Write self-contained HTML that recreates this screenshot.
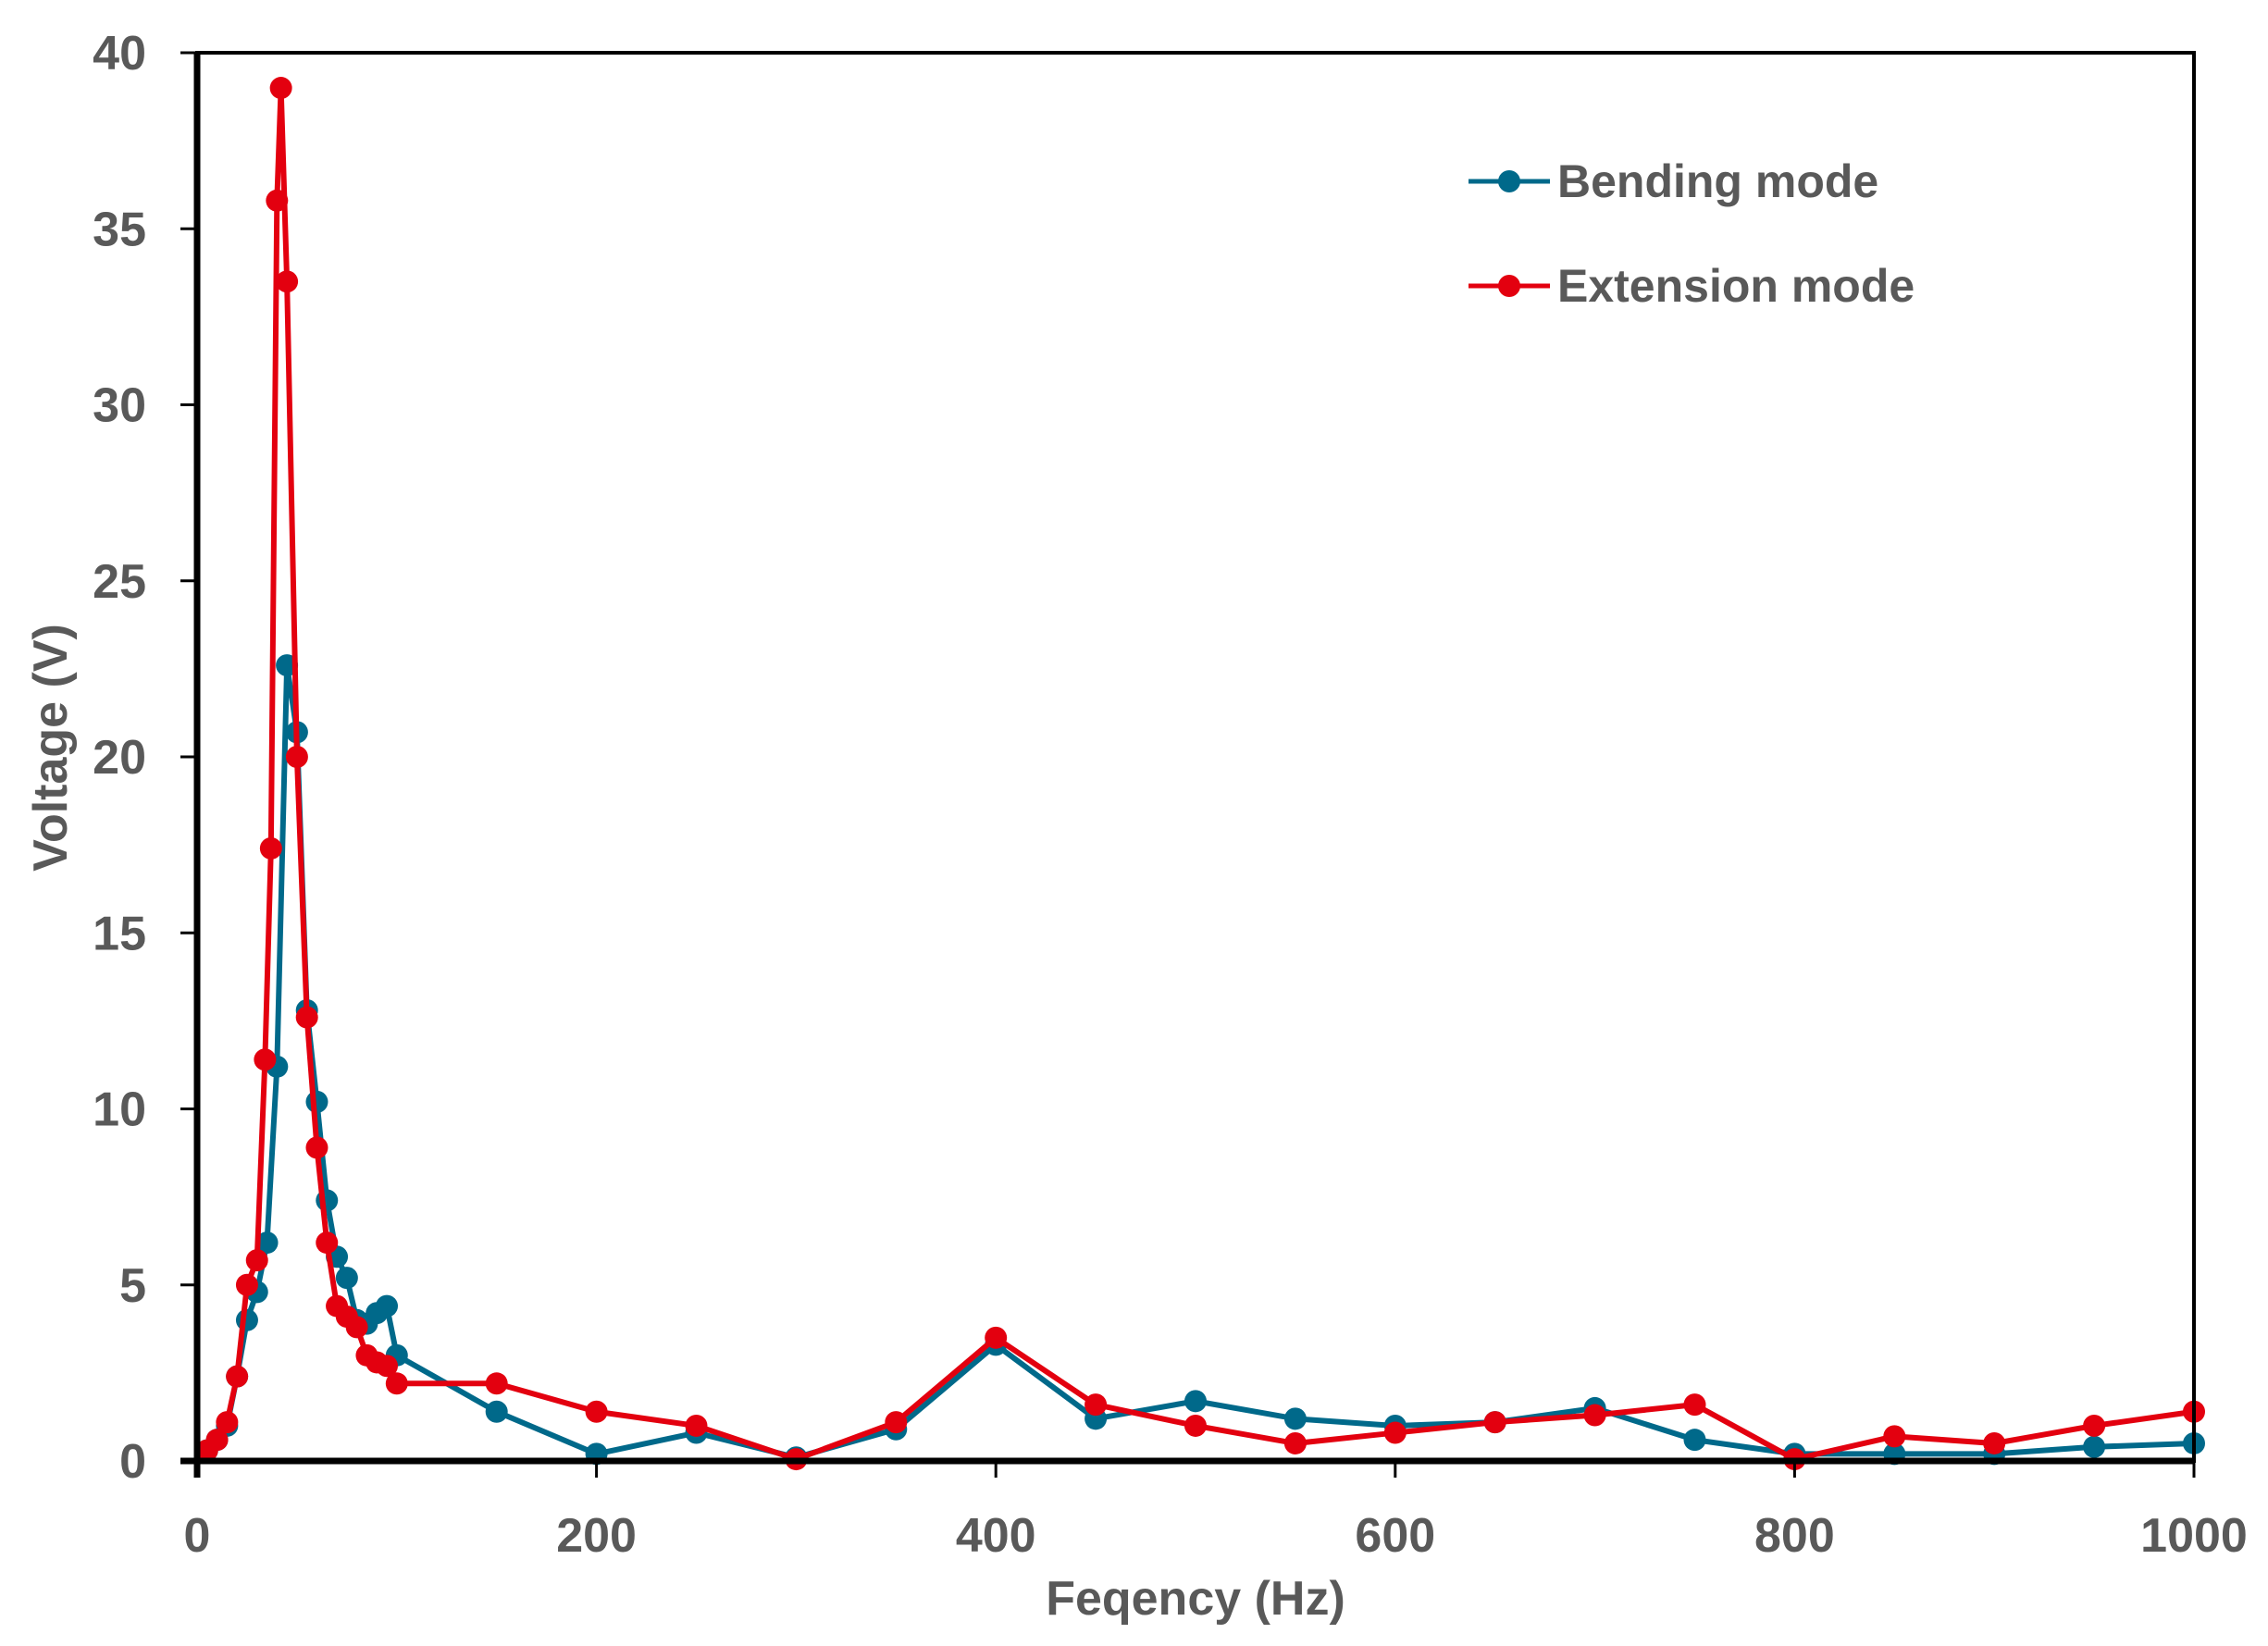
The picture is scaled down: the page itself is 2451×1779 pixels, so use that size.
<!DOCTYPE html>
<html><head><meta charset="utf-8"><style>
body{margin:0;background:#fff;}
svg{display:block;font-family:"Liberation Sans",sans-serif;}
</style></head><body>
<svg id="chart" width="2451" height="1779" viewBox="0 0 2451 1779" xmlns="http://www.w3.org/2000/svg">
<g id="series"></g>
<g id="axes"></g>
<g id="legend"></g>
</svg>
<script>
const bendX=[5,10,15,20,25,30,35,40,45,50,55,60,65,70,75,80,85,90,95,100,150,200,250,300,350,400,450,500,550,600,650,700,750,800,850,900,950,1000];
const bendY=[0.3,0.6,1.0,2.4,4.0,4.8,6.2,11.2,22.6,20.7,12.8,10.2,7.4,5.8,5.2,4.0,3.9,4.2,4.4,3.0,1.4,0.2,0.8,0.1,0.9,3.3,1.2,1.7,1.2,1.0,1.1,1.5,0.6,0.2,0.2,0.2,0.4,0.5];
const extX=[5,10,15,20,25,30,34,37,40,42,45,50,55,60,65,70,75,80,85,90,95,100,150,200,250,300,350,400,450,500,550,600,650,700,750,800,850,900,950,1000];
const extY=[0.3,0.6,1.1,2.4,5.0,5.7,11.4,17.4,35.8,39.0,33.5,20.0,12.6,8.9,6.2,4.4,4.1,3.8,3.0,2.8,2.7,2.2,2.2,1.4,1.0,0.05,1.1,3.5,1.6,1.0,0.5,0.8,1.1,1.3,1.6,0.05,0.7,0.5,1.0,1.4];
const xTicks=[0,200,400,600,800,1000];
const yTicks=[0,5,10,15,20,25,30,35,40];
const seriesNames=["Bending mode","Extension mode"];
const X0=213,X1=2371,Y0=1579,Y1=57;
const sx=v=>X0+(X1-X0)*v/1000;
const sy=v=>Y0-(Y0-Y1)*v/40;
const NS="http://www.w3.org/2000/svg";
function mk(tag,attrs,parent){const e=document.createElementNS(NS,tag);for(const k in attrs)e.setAttribute(k,attrs[k]);parent.appendChild(e);return e;}
const axes=document.getElementById('axes'),ser=document.getElementById('series'),leg=document.getElementById('legend');
let fr=mk('rect',{x:X0,y:Y1,width:X1-X0,height:Y0-Y1,fill:'none',stroke:'#000','stroke-width':4},axes);


let ya=mk('line',{x1:X0,y1:Y1,x2:X0,y2:Y0+18,stroke:'#000','stroke-width':7},axes);


let xa=mk('line',{x1:X0-18,y1:Y0,x2:X1,y2:Y0,stroke:'#000','stroke-width':7},axes);


yTicks.forEach(v=>{
  const tk=mk('line',{x1:X0-18,y1:sy(v),x2:X0,y2:sy(v),stroke:'#000','stroke-width':3},axes);
  
  
  const t=mk('text',{x:158,y:sy(v)+18,'text-anchor':'end','font-size':52,'font-weight':'bold',fill:'#595959'},axes);
  t.textContent=v;
  
  
});
xTicks.forEach(v=>{
  const tk=mk('line',{x1:sx(v),y1:Y0,x2:sx(v),y2:Y0+18,stroke:'#000','stroke-width':3},axes);
  
  
  const t=mk('text',{x:sx(v),y:1677,'text-anchor':'middle','font-size':52,'font-weight':'bold',fill:'#595959'},axes);
  t.textContent=v;
  
  
});
let xt=mk('text',{x:1292,y:1745,'text-anchor':'middle','font-size':52,'font-weight':'bold',fill:'#595959'},axes);
xt.textContent='Feqency (Hz)';


let yt=mk('text',{x:0,y:0,'text-anchor':'middle','font-size':52,'font-weight':'bold',fill:'#595959',transform:'translate(72,808) rotate(-90)'},axes);
yt.textContent='Voltage (V)';


function drawSeries(xs,ys,color,name){
  const g=mk('g',{},ser);
  
  
  const pl=mk('polyline',{points:xs.map((x,i)=>sx(x)+','+sy(ys[i])).join(' '),fill:'none',stroke:color,'stroke-width':6,'stroke-linejoin':'round'},g);
  
  
  xs.forEach((x,i)=>{
    const c=mk('circle',{cx:sx(x),cy:sy(ys[i]),r:12,fill:color},g);
    
    
  });
}
drawSeries(bendX,bendY,'#00698a','bending-mode-series');
drawSeries(extX,extY,'#e3000f','extension-mode-series');
[['#00698a',196],['#e3000f',309]].forEach((d,i)=>{
  const l=mk('line',{x1:1587,y1:d[1],x2:1675,y2:d[1],stroke:d[0],'stroke-width':5},leg);
  
  
  const c=mk('circle',{cx:1631,cy:d[1],r:12,fill:d[0]},leg);
  
  
  const t=mk('text',{x:1683,y:d[1]+17,'font-size':50,'font-weight':'bold',fill:'#595959'},leg);
  t.textContent=seriesNames[i];
  
  
});
</script>
</body></html>
